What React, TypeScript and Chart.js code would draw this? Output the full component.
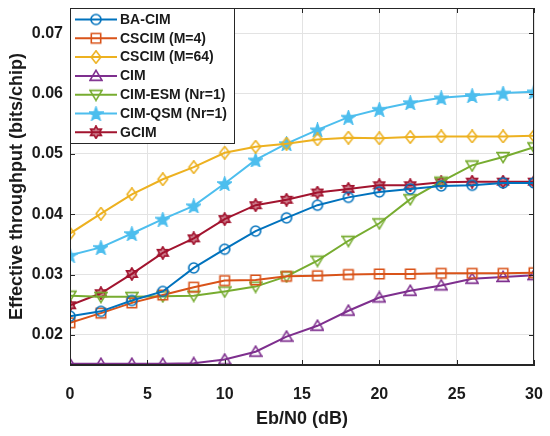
import { useEffect, useRef } from 'react';
import { Chart, registerables } from 'chart.js';

Chart.register(...registerables);

const snr = [0, 2, 4, 6, 8, 10, 12, 14, 16, 18, 20, 22, 24, 26, 28, 30];

const baCim = [0.0231, 0.0239, 0.0257, 0.0272, 0.0311, 0.0342, 0.0372, 0.0394, 0.0415, 0.0428, 0.0437, 0.0442, 0.0447, 0.0448, 0.0452, 0.0452];
const cscim4 = [0.0220, 0.0236, 0.0253, 0.0266, 0.0279, 0.0290, 0.0291, 0.0297, 0.0298, 0.0300, 0.0301, 0.0301, 0.0302, 0.0302, 0.0302, 0.0303];
const cscim64 = [0.0368, 0.0401, 0.0433, 0.0458, 0.0478, 0.0502, 0.0512, 0.0517, 0.0524, 0.0527, 0.0526, 0.0528, 0.0529, 0.0529, 0.0529, 0.0530];
const cim = [0.0152, 0.0152, 0.0152, 0.0152, 0.0153, 0.0159, 0.0172, 0.0197, 0.0215, 0.0240, 0.0262, 0.0273, 0.0282, 0.0293, 0.0296, 0.0299];
const cimEsm = [0.0265, 0.0263, 0.0263, 0.0264, 0.0265, 0.0272, 0.0280, 0.0297, 0.0323, 0.0356, 0.0385, 0.0425, 0.0454, 0.0481, 0.0495, 0.0511];
const cimQsm = [0.0332, 0.0345, 0.0368, 0.0392, 0.0414, 0.0451, 0.0490, 0.0517, 0.0540, 0.0561, 0.0574, 0.0585, 0.0593, 0.0597, 0.0601, 0.0603];
const gcim = [0.0249, 0.0269, 0.0301, 0.0336, 0.0360, 0.0392, 0.0415, 0.0424, 0.0436, 0.0442, 0.0448, 0.0448, 0.0453, 0.0454, 0.0454, 0.0454];

const xTicks = [0, 5, 10, 15, 20, 25, 30];
const yTicks = [0.02, 0.03, 0.04, 0.05, 0.06, 0.07];

const FONT = '"Liberation Sans", Arial, sans-serif';

type Shape = 'circle' | 'square' | 'diamond' | 'tri' | 'triDown' | 'star5' | 'star6';

function makeMarker(shape: Shape, color: string): HTMLCanvasElement {
  const size = shape === 'star5' ? 15 : 14;
  const c = document.createElement('canvas');
  c.width = size;
  c.height = size;
  const g = c.getContext('2d')!;
  const m = size / 2;
  g.strokeStyle = color;
  g.fillStyle = color;
  g.lineWidth = 1.6;
  g.lineJoin = 'miter';
  g.beginPath();
  const star = (n: number, outer: number, inner: number) => {
    for (let i = 0; i < n * 2; i++) {
      const r = i % 2 === 0 ? outer : inner;
      const a = -Math.PI / 2 + (i * Math.PI) / n;
      const px = m + r * Math.cos(a);
      const py = m + r * Math.sin(a) + (n === 5 ? 0.8 : 0);
      if (i === 0) g.moveTo(px, py);
      else g.lineTo(px, py);
    }
  };
  if (shape === 'circle') g.arc(m, m, 5, 0, Math.PI * 2);
  if (shape === 'square') g.rect(m - 4.7, m - 4.7, 9.4, 9.4);
  if (shape === 'diamond') {
    g.moveTo(m, m - 6.2);
    g.lineTo(m + 4.8, m);
    g.lineTo(m, m + 6.2);
    g.lineTo(m - 4.8, m);
  }
  if (shape === 'tri') {
    g.moveTo(m, m - 5.6);
    g.lineTo(m + 6, m + 4.4);
    g.lineTo(m - 6, m + 4.4);
  }
  if (shape === 'triDown') {
    g.moveTo(m, m + 5.6);
    g.lineTo(m + 6, m - 4.4);
    g.lineTo(m - 6, m - 4.4);
  }
  if (shape === 'star5') star(5, 7, 2.8);
  if (shape === 'star6') star(6, 6.2, 3.6);
  g.closePath();
  if (shape === 'star5') g.fill();
  if (shape === 'star6') {
    g.globalAlpha = 0.55;
    g.fill();
    g.globalAlpha = 1;
  }
  g.stroke();
  return c;
}

const seriesDefs: { label: string; data: number[]; color: string; shape: Shape }[] = [
  { label: 'BA-CIM', data: baCim, color: '#0072BD', shape: 'circle' },
  { label: 'CSCIM (M=4)', data: cscim4, color: '#D95319', shape: 'square' },
  { label: 'CSCIM (M=64)', data: cscim64, color: '#EDB120', shape: 'diamond' },
  { label: 'CIM', data: cim, color: '#7E2F8E', shape: 'tri' },
  { label: 'CIM-ESM (Nr=1)', data: cimEsm, color: '#77AC30', shape: 'triDown' },
  { label: 'CIM-QSM (Nr=1)', data: cimQsm, color: '#4DBEEE', shape: 'star5' },
  { label: 'GCIM', data: gcim, color: '#A2142F', shape: 'star6' },
];

export default function App() {
  const canvasRef = useRef<HTMLCanvasElement>(null);
  const chartRef = useRef<Chart | null>(null);

  useEffect(() => {
    if (!canvasRef.current) return;
    if (chartRef.current) chartRef.current.destroy();

    const markers = seriesDefs.map((s) => makeMarker(s.shape, s.color));

    // box, inward ticks and the boxed legend, MATLAB style
    const frame = {
      id: 'frame',
      afterDraw(chart: Chart) {
        const { ctx, chartArea: a, scales } = chart;
        ctx.save();
        ctx.strokeStyle = '#262626';
        ctx.lineWidth = 1;
        ctx.strokeRect(a.left + 0.5, a.top + 0.5, a.right - a.left - 1, a.bottom - a.top - 1);
        xTicks.forEach((t) => {
          const px = Math.round(scales.x.getPixelForValue(t)) + 0.5;
          ctx.beginPath();
          ctx.moveTo(px, a.bottom);
          ctx.lineTo(px, a.bottom - 5);
          ctx.moveTo(px, a.top);
          ctx.lineTo(px, a.top + 5);
          ctx.stroke();
        });
        yTicks.forEach((t) => {
          const py = Math.round(scales.y.getPixelForValue(t)) + 0.5;
          ctx.beginPath();
          ctx.moveTo(a.left, py);
          ctx.lineTo(a.left + 5, py);
          ctx.moveTo(a.right, py);
          ctx.lineTo(a.right - 5, py);
          ctx.stroke();
        });

        const lx = a.left;
        const ly = a.top;
        const lw = 164;
        const lh = 135;
        ctx.fillStyle = '#ffffff';
        ctx.fillRect(lx, ly, lw, lh);
        ctx.strokeStyle = '#262626';
        ctx.strokeRect(lx + 0.5, ly + 0.5, lw, lh);
        ctx.font = `bold 14px ${FONT}`;
        ctx.textBaseline = 'middle';
        seriesDefs.forEach((s, i) => {
          const cy = ly + 11.5 + i * 18.8;
          ctx.strokeStyle = s.color;
          ctx.lineWidth = 2;
          ctx.beginPath();
          ctx.moveTo(lx + 5, cy);
          ctx.lineTo(lx + 47, cy);
          ctx.stroke();
          const mk = markers[i];
          ctx.drawImage(mk, lx + 26 - mk.width / 2, cy - mk.height / 2);
          ctx.fillStyle = '#1a1a1a';
          ctx.fillText(s.label, lx + 50, cy + 0.5);
        });
        ctx.restore();
      },
    };

    chartRef.current = new Chart(canvasRef.current, {
      type: 'line',
      data: {
        datasets: seriesDefs.map((s, i) => ({
          label: s.label,
          data: s.data.map((v, j) => ({ x: snr[j], y: v })),
          borderColor: s.color,
          backgroundColor: s.color,
          borderWidth: 2,
          pointStyle: markers[i],
          pointRadius: 6,
          tension: 0,
          fill: false,
        })),
      },
      options: {
        animation: false,
        responsive: true,
        maintainAspectRatio: false,
        layout: { padding: { top: 8, right: 16, left: 0, bottom: 0 } },
        plugins: {
          legend: { display: false },
          tooltip: { enabled: false },
        },
        scales: {
          x: {
            type: 'linear',
            min: 0,
            max: 30,
            afterBuildTicks: (scale) => {
              scale.ticks = xTicks.map((v) => ({ value: v }));
            },
            afterFit: (scale: any) => {
              scale.height = 71;
              scale.paddingLeft = 0;
              scale.paddingRight = 0;
            },
            grid: { color: '#e3e3e3', drawTicks: false },
            border: { color: '#262626' },
            ticks: {
              padding: 20,
              color: '#1a1a1a',
              font: { family: FONT, size: 16, weight: 'bold' },
              maxRotation: 0,
            },
            title: {
              display: true,
              text: 'Eb/N0 (dB)',
              color: '#1a1a1a',
              font: { family: FONT, size: 18, weight: 'bold' },
              padding: { top: 0, bottom: 6 },
            },
          },
          y: {
            type: 'linear',
            min: 0.015,
            max: 0.0742,
            afterBuildTicks: (scale) => {
              scale.ticks = yTicks.map((v) => ({ value: v }));
            },
            afterFit: (scale: any) => {
              scale.width = 70;
              scale.paddingTop = 0;
              scale.paddingBottom = 0;
            },
            grid: { color: '#e3e3e3', drawTicks: false },
            border: { color: '#262626' },
            ticks: {
              padding: 7,
              color: '#1a1a1a',
              font: { family: FONT, size: 16, weight: 'bold' },
              callback: (v) => Number(v).toFixed(2),
            },
            title: {
              display: true,
              text: 'Effective throughput (bits/chip)',
              color: '#1a1a1a',
              font: { family: FONT, size: 18, weight: 'bold' },
              padding: { top: 6, bottom: 0 },
            },
          },
        },
      },
      plugins: [frame],
    });

    return () => chartRef.current?.destroy();
  }, []);

  return (
    <div style={{ position: 'fixed', left: 0, top: 0, width: 550, height: 436, background: '#fff' }}>
      <canvas ref={canvasRef} />
    </div>
  );
}
